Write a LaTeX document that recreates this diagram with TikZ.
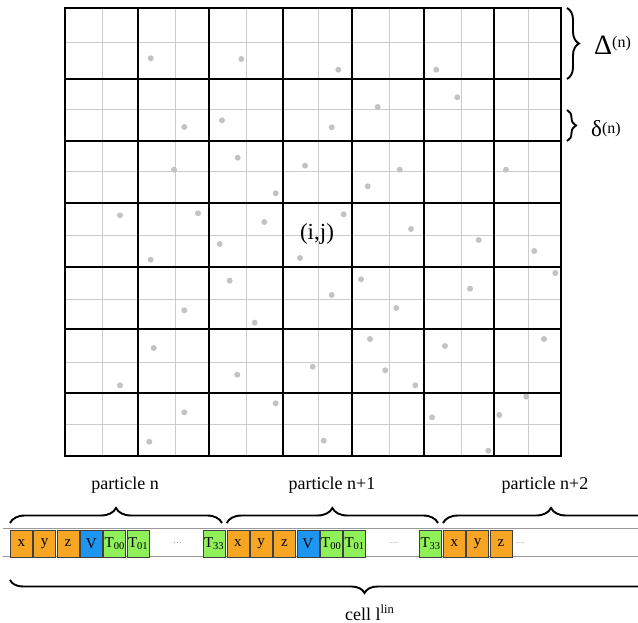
\documentclass[tikz,border=0pt]{standalone}
\usepackage{fontspec}
\setmainfont{Liberation Serif}
\usepackage{xcolor}
\usepackage{tikz}
\usetikzlibrary{decorations.pathreplacing}
\definecolor{posc}{RGB}{246,166,35}
\definecolor{volc}{RGB}{30,150,240}
\definecolor{tenc}{RGB}{143,240,90}
\definecolor{dotc}{RGB}{195,195,195}
\tikzset{
  cellbox/.style={draw=black!75,line width=.8pt,minimum width=22pt,minimum height=27pt,inner sep=0pt,anchor=west,font=\fontsize{15}{17}\selectfont},
  bigbrace/.style={decorate,decoration={brace,amplitude=#1},line width=1.9pt},
  dotsnode/.style={text=gray,font=\small},
}
\begin{document}
\begin{tikzpicture}[x=1pt,y=-1pt,font=\fontsize{18}{20}\selectfont]
    \useasboundingbox (0,0) rectangle (638,623);
    \clip (0,0) rectangle (638,623);
    \foreach \x in {102,175,246,318,389,461,528}{
      \draw[black!20,line width=1pt] (\x,8)--(\x,456);
    }
    \foreach \y in {43,110,172,236,299,362,424}{
      \draw[black!20,line width=1pt] (65,\y)--(561,\y);
    }
    \foreach \x in {65,138,209,283,352,424,494,561}{
      \draw[line width=2.2pt,line cap=rect] (\x,8)--(\x,456);
    }
    \foreach \y in {8,79,141,203,267,329,393,456}{
      \draw[line width=2.2pt,line cap=rect] (65,\y)--(561,\y);
    }
    \foreach \x/\y in {150.7/58.3,241.3/59,184.3/127,222/120.3,174/169.7,237.7/157.7,275.7/193.3,305/165.7,120/215.3,198/213.3,264.3/222,
      338.3/69.7,436.3/69.7,331.7/127.3,377.7/107,457.3/97.3,399.7/169.7,367.7/186.3,506/169.7,343.7/214.3,411/229,478.7/240,
      219.7/244,150.7/259.7,300/258,229.7/280.7,184.3/310.3,254.7/322.7,153.7/348,237.3/374.7,120/385.3,275.7/403.3,184.3/412.3,149.3/441.7,
      534.3/251,361/279.3,331.7/295,396.3/308,470/288.7,555.3/273,370/339,445/346,544/339,312.7/366.7,385.3/370.3,415.3/385.3,
      526.3/396.7,499.3/415,432/417.3,323.7/440.7,488.3/450.7}{
      \fill[dotc] (\x,\y) circle[radius=3pt];
    }
    \node[font=\fontsize{23}{25}\selectfont] (ij) at (317,234) {(i,j)};
    \coordinate (bigtop) at (567,8);
    \coordinate (bigbot) at (567,79);
    \coordinate (smalltop) at (567,110);
    \coordinate (smallbot) at (567,141);
    \draw[bigbrace=12pt] (bigtop)--(bigbot);
    \draw[bigbrace=9pt] (smalltop)--(smallbot);
    \node[anchor=base west,inner sep=0pt] (Dn) at (594,55) {{\fontsize{28}{30}\selectfont Δ}\raisebox{7pt}{\fontsize{16}{18}\selectfont (n)}};
    \node[anchor=base west,inner sep=0pt] (dn) at (591,137) {{\fontsize{23}{25}\selectfont δ}\raisebox{3pt}{\fontsize{16}{18}\selectfont (n)}};
    \draw[black!40,line width=1.2pt] (3,528.5)--(638,528.5) (3,556.7)--(638,556.7);
    \foreach \p/\s in {0/10,1/226.5,2/443}{
      \foreach \k/\lab in {0/x,1/y,2/z}{
        \node[cellbox,fill=posc] (\lab\p) at (\s+23.33*\k,543.5) {\lab};
      }
    }
    \foreach \p/\s in {0/10,1/226.5}{
      \node[cellbox,fill=volc] (V\p) at (\s+70,543.5) {V};
      \node[cellbox,fill=tenc] (Tzz\p) at (\s+93.3,543.5) {T\textsubscript{00}};
      \node[cellbox,fill=tenc] (Tzo\p) at (\s+116.7,543.5) {T\textsubscript{01}};
      \node[dotsnode] (dots\p) at (\s+167.7,543.5) {\dots};
      \node[cellbox,fill=tenc] (Ttt\p) at (\s+192.7,543.5) {T\textsubscript{33}};
    }
    \node[dotsnode] (dots2) at (520,543.5) {\dots};
    \foreach \a/\b in {10/222,226.7/438,443/659}{
      \draw[bigbrace=15pt] (\a,523)--(\b,523);
    }
    \node[anchor=base] (pn) at (125,489) {particle n};
    \node[anchor=base] (pn1) at (332,489) {particle n+1};
    \node[anchor=base] (pn2) at (545,489) {particle n+2};
    \draw[bigbrace=13pt] (719,580)--(10,580);
    \node[anchor=base west,inner sep=0pt] (cell) at (345,620) {cell l\textsuperscript{lin}};
  \end{tikzpicture}
\end{document}
